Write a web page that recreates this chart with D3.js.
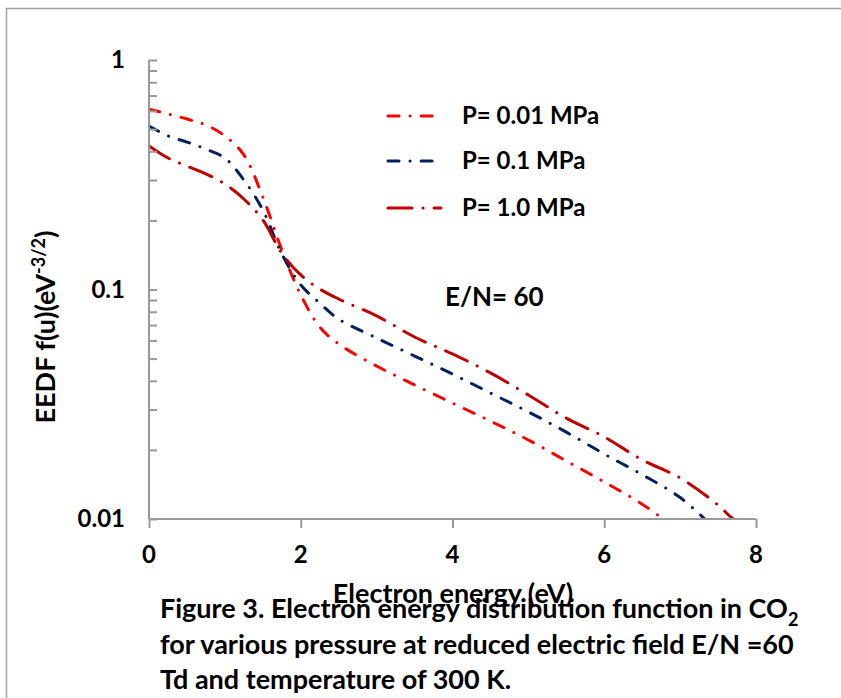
<!DOCTYPE html>
<html>
<head>
<meta charset="utf-8">
<script src="https://cdn.jsdelivr.net/npm/d3@7"></script>
<style>
  body { margin: 0; background: #fff; }
  text { font-family: Lato, "Open Sans", sans-serif; font-weight: bold; fill: #000; }
</style>
</head>
<body>
<svg id="chart" width="841" height="698"></svg>
<script>
// series values (energy in eV, EEDF in eV^-3/2)
const energy = [0, 0.25, 0.5, 0.75, 1, 1.25, 1.5, 1.75, 2, 2.25, 2.5, 3, 3.5, 4, 4.5, 5, 5.5, 6, 6.5, 7, 7.5, 7.7, 8];
const p001 = [0.611, 0.582, 0.553, 0.521, 0.467, 0.386, 0.253, 0.149, 0.0947, 0.0687, 0.0579, 0.0464, 0.0384, 0.032, 0.0267, 0.0221, 0.0179, 0.0145, 0.0116, 0.0088, null, null, null];
const p01 = [0.516, 0.467, 0.439, 0.409, 0.374, 0.300, 0.222, 0.143, 0.1047, 0.0873, 0.0743, 0.0615, 0.0513, 0.0428, 0.0354, 0.0293, 0.0239, 0.0192, 0.0156, 0.0124, 0.0088, null, null];
const p10 = [0.422, 0.374, 0.345, 0.319, 0.288, 0.248, 0.201, 0.144, 0.1157, 0.1005, 0.0909, 0.0767, 0.0621, 0.0524, 0.0433, 0.0347, 0.0275, 0.0228, 0.0181, 0.0151, 0.0115, 0.01, 0.0088];

const seriesNames = ["P= 0.01 MPa", "P= 0.1 MPa", "P= 1.0 MPa"];
const seriesColors = ["#ff0000", "#002060", "#c00000"];
const seriesDash = ["11,11,0.1,11", "11,11,0.1,11", "24,11,0.1,11"];
const xTicks = [0, 2, 4, 6, 8];
const yTicks = [0.01, 0.1, 1];

const svg = d3.select("#chart");

// outer frame
svg.append("rect")
  .attr("x", 6.5).attr("y", 8.5)
  .attr("width", 850).attr("height", 720)
  .attr("fill", "none").attr("stroke", "#a0a0a0").attr("stroke-width", 1.5);

const x = d3.scaleLinear().domain([0, 8]).range([149, 756]);
const y = d3.scaleLog().domain([0.01, 1]).range([519, 60]);

svg.append("clipPath").attr("id", "plot")
  .append("rect").attr("x", 149).attr("y", 60).attr("width", 607).attr("height", 459);

// curves
const allSeries = [p001, p01, p10];
const line = d3.line()
  .defined(d => d[1] != null)
  .x(d => x(d[0]))
  .y(d => y(d[1]))
  .curve(d3.curveCatmullRom);

allSeries.forEach((vals, i) => {
  svg.append("path")
    .datum(energy.map((e, j) => [e, vals[j]]))
    .attr("clip-path", "url(#plot)")
    .attr("d", line)
    .attr("fill", "none")
    .attr("stroke", seriesColors[i])
    .attr("stroke-width", 3)
    .attr("stroke-linecap", "round")
    .attr("stroke-dasharray", seriesDash[i]);
});

// y axis with log minor ticks pointing inward
const minor = [];
for (let dec = 0.01; dec < 1; dec *= 10) {
  for (let k = 1; k <= 10; k++) minor.push(+(dec * k).toPrecision(3));
}
const yAxis = svg.append("g")
  .attr("transform", "translate(149,0)")
  .call(d3.axisRight(y).tickValues(minor).tickSize(8).tickFormat(""));
yAxis.selectAll("path, line").attr("stroke", "#999").attr("stroke-width", 2);
yAxis.select(".domain").attr("d", "M0,519V60");

svg.selectAll(".ylab").data(yTicks).enter().append("text")
  .attr("x", 125).attr("y", d => y(d))
  .attr("dy", "0.35em")
  .attr("text-anchor", "end")
  .style("font-size", "24px")
  .text(d => d);

// x axis
const xAxis = svg.append("g")
  .attr("transform", "translate(0,519)")
  .call(d3.axisBottom(x).tickValues(xTicks).tickSize(9).tickFormat(""));
xAxis.selectAll("path, line").attr("stroke", "#999").attr("stroke-width", 2);
xAxis.select(".domain").attr("d", "M149,0H756");

svg.selectAll(".xlab").data(xTicks).enter().append("text")
  .attr("x", d => x(d)).attr("y", 563)
  .attr("text-anchor", "middle")
  .style("font-size", "24px")
  .text(d => d);

// axis titles
svg.append("text")
  .attr("x", 453).attr("y", 603)
  .attr("text-anchor", "middle")
  .style("font-size", "27px")
  .text("Electron energy (eV)");

const yTitle = svg.append("text")
  .attr("transform", "translate(55,327) rotate(-90)")
  .attr("text-anchor", "middle")
  .style("font-size", "27px");
yTitle.append("tspan").text("EEDF f(u)(eV");
yTitle.append("tspan").attr("dy", -10).style("font-size", "18px").text("-3/2");
yTitle.append("tspan").attr("dy", 10).text(")");

// legend
seriesNames.forEach((name, i) => {
  const ly = [116, 161, 208][i];
  svg.append("line")
    .attr("x1", 388).attr("x2", 441).attr("y1", ly).attr("y2", ly)
    .attr("stroke", seriesColors[i]).attr("stroke-width", 3)
    .attr("stroke-linecap", "round")
    .attr("stroke-dasharray", i === 2 ? "24,11,0.1,11" : "11,11,0.1,11");
  svg.append("text")
    .attr("x", 462).attr("y", ly + 8)
    .style("font-size", "24px")
    .text(name);
});

svg.append("text")
  .attr("x", 445).attr("y", 306)
  .style("font-size", "26px")
  .text("E/N= 60");

// caption
const caption = svg.append("g").attr("transform", "translate(160,0)");
const c1 = caption.append("text").attr("y", 618).style("font-size", "27px");
c1.append("tspan").text("Figure 3. Electron energy distribution function in CO");
c1.append("tspan").attr("dy", 8).style("font-size", "18px").text("2");
caption.append("text").attr("y", 654).style("font-size", "27px")
  .text("for various pressure at reduced electric field E/N =60");
caption.append("text").attr("y", 689).style("font-size", "27px")
  .text("Td and temperature of 300 K.");
</script>
</body>
</html>
